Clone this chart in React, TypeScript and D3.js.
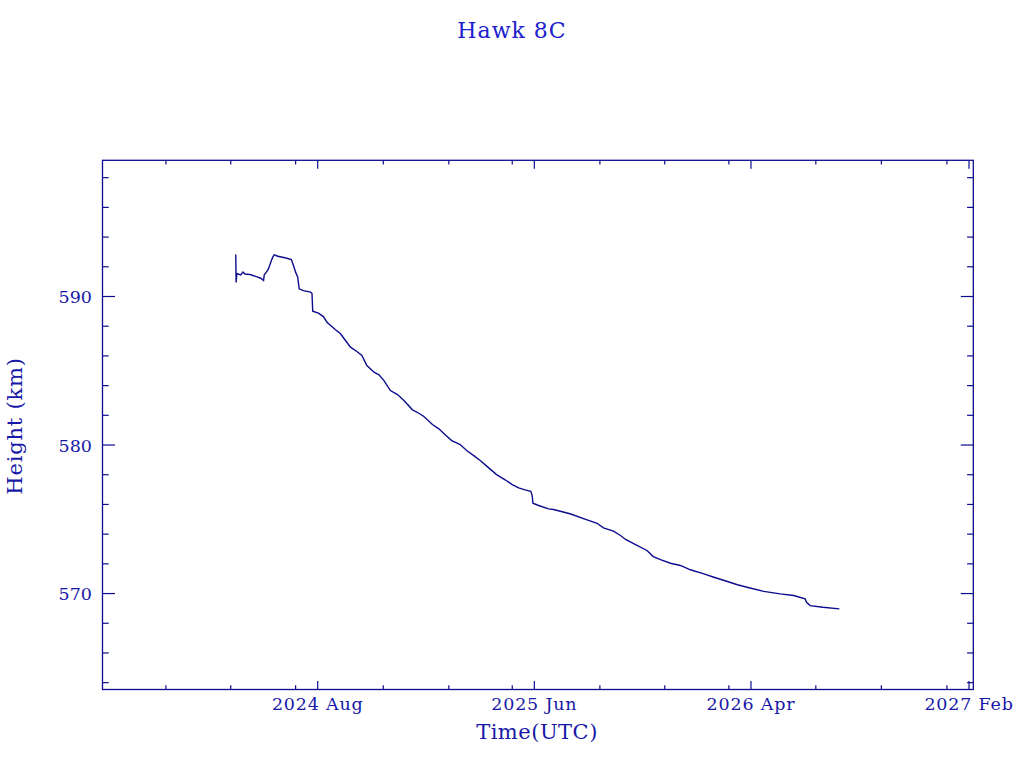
import React from 'react';
import { scaleUtc, scaleLinear, line, utcParse, utcMonth, range } from 'd3';

// orbit height samples (UTC date, km)
const dates = [
  '2024-04-08T00', '2024-04-08T12', '2024-04-09T12', '2024-04-15T00', '2024-04-18T00', '2024-04-21T00',
  '2024-04-28T00', '2024-05-09T00', '2024-05-13T00', '2024-05-17T00', '2024-05-18T00', '2024-05-21T00',
  '2024-05-24T00', '2024-05-28T00', '2024-05-30T00', '2024-06-01T00', '2024-06-06T00', '2024-06-16T00',
  '2024-06-25T00', '2024-06-28T00', '2024-07-01T00', '2024-07-04T00', '2024-07-06T00', '2024-07-12T00',
  '2024-07-22T00', '2024-07-24T00', '2024-07-25T00', '2024-08-02T00', '2024-08-09T00', '2024-08-14T00',
  '2024-08-26T00', '2024-09-02T00', '2024-09-09T00', '2024-09-16T00', '2024-09-25T00', '2024-10-02T00',
  '2024-10-09T00', '2024-10-19T00', '2024-10-26T00', '2024-11-02T00', '2024-11-11T00', '2024-11-21T00',
  '2024-11-30T00', '2024-12-12T00', '2024-12-21T00', '2024-12-28T00', '2025-01-09T00', '2025-01-18T00',
  '2025-01-28T00', '2025-02-05T00', '2025-02-17T00', '2025-02-26T00', '2025-03-08T00', '2025-03-17T00',
  '2025-03-29T00', '2025-04-09T00', '2025-04-21T00', '2025-05-01T00', '2025-05-10T00', '2025-05-19T00',
  '2025-05-27T00', '2025-05-29T00', '2025-05-30T00', '2025-06-07T00', '2025-06-21T00', '2025-06-28T00',
  '2025-07-21T00', '2025-08-14T00', '2025-08-28T00', '2025-09-06T00', '2025-09-20T00', '2025-09-30T00',
  '2025-10-07T00', '2025-10-21T00', '2025-11-06T00', '2025-11-15T00', '2025-11-25T00', '2025-12-09T00',
  '2025-12-23T00', '2026-01-06T00', '2026-01-25T00', '2026-02-08T00', '2026-02-27T00', '2026-03-13T00',
  '2026-04-01T00', '2026-04-19T00', '2026-05-12T00', '2026-05-31T00', '2026-06-16T00', '2026-06-18T00',
  '2026-06-23T00', '2026-07-11T00', '2026-08-03T00',
];

const heights = [
  592.83, 590.94, 591.55, 591.46, 591.64, 591.51,
  591.48, 591.30, 591.23, 591.08, 591.46, 591.64,
  591.87, 592.42, 592.65, 592.81, 592.71, 592.61,
  592.49, 592.09, 591.64, 591.30, 590.52, 590.40,
  590.29, 590.20, 589.01, 588.88, 588.65, 588.27,
  587.76, 587.49, 587.04, 586.59, 586.30, 586.03,
  585.35, 584.90, 584.73, 584.34, 583.67, 583.40,
  583.00, 582.37, 582.14, 581.92, 581.38, 581.09,
  580.64, 580.30, 580.03, 579.63, 579.29, 578.96,
  578.46, 578.01, 577.66, 577.34, 577.12, 576.98,
  576.89, 576.60, 576.08, 575.93, 575.70, 575.66,
  575.37, 574.96, 574.73, 574.42, 574.20, 573.91,
  573.64, 573.30, 572.90, 572.49, 572.29, 572.04,
  571.89, 571.60, 571.33, 571.10, 570.81, 570.59,
  570.36, 570.15, 569.98, 569.87, 569.64, 569.41,
  569.19, 569.08, 568.97,
];

const majorTimes = ['2024-08-01', '2025-06-01', '2026-04-01', '2027-02-01'];
const majorLabels = ['2024 Aug', '2025 Jun', '2026 Apr', '2027 Feb'];
const minorBase = ['2023-10-01', ...majorTimes];
const minorStepMonths = [3, 6, 9];

const yMajor = [570, 580, 590];
const yMinor = range(564, 600, 2);

const W = 1024;
const H = 768;
const box = { left: 102.5, right: 973.3, top: 160.3, bottom: 689.5 };

const AXIS = '#0c0c8e';
const TEXT = '#1818a8';
const TITLE = '#2020cc';
const FONT = '"DejaVu Serif", serif';

const parseHour = utcParse('%Y-%m-%dT%H');
const parseDay = utcParse('%Y-%m-%d');

export default function App() {
  const x = scaleUtc()
    .domain([parseDay('2023-10-04')!, parseDay('2027-02-07')!])
    .range([box.left, box.right]);
  const y = scaleLinear().domain([563.54, 599.17]).range([box.bottom, box.top]);

  const points = dates.map((d, i) => ({ t: parseHour(d)!, h: heights[i] }));
  const path = line<{ t: Date; h: number }>()
    .x(d => x(d.t))
    .y(d => y(d.h))(points) ?? '';

  const majors = majorTimes.map(s => parseDay(s)!);
  const minors = minorBase
    .flatMap(s => minorStepMonths.map(m => utcMonth.offset(parseDay(s)!, m)))
    .filter(d => x(d) > box.left && x(d) < box.right);

  const xMaj = 8.5, xMin = 4.3, yMaj = 12.5, yMin = 6.2;

  return (
    <svg width={W} height={H} style={{ position: 'absolute', left: 0, top: 0, background: '#fff' }}>
      <text x={512} y={38} textAnchor="middle" fill={TITLE} fontFamily={FONT} fontSize={22} letterSpacing={1}>
        Hawk 8C
      </text>

      <rect x={box.left} y={box.top} width={box.right - box.left} height={box.bottom - box.top}
        fill="none" stroke={AXIS} strokeWidth={1.3} />

      <g stroke={AXIS} strokeWidth={1.2}>
        {majors.map((d, i) => (
          <g key={'M' + i}>
            <line x1={x(d)} x2={x(d)} y1={box.bottom} y2={box.bottom - xMaj} />
            <line x1={x(d)} x2={x(d)} y1={box.top} y2={box.top + xMaj} />
          </g>
        ))}
        {minors.map((d, i) => (
          <g key={'m' + i}>
            <line x1={x(d)} x2={x(d)} y1={box.bottom} y2={box.bottom - xMin} />
            <line x1={x(d)} x2={x(d)} y1={box.top} y2={box.top + xMin} />
          </g>
        ))}
        {yMinor.map(v => {
          const len = yMajor.includes(v) ? yMaj : yMin;
          return (
            <g key={'y' + v}>
              <line x1={box.left} x2={box.left + len} y1={y(v)} y2={y(v)} />
              <line x1={box.right} x2={box.right - len} y1={y(v)} y2={y(v)} />
            </g>
          );
        })}
      </g>

      <g fill={TEXT} fontFamily={FONT} fontSize={17.5}>
        {majors.map((d, i) => (
          <text key={i} x={x(d)} y={710} textAnchor="middle" letterSpacing={0.8}>{majorLabels[i]}</text>
        ))}
        {yMajor.map(v => (
          <text key={v} x={92} y={y(v) + 6.5} textAnchor="end">{v}</text>
        ))}
      </g>

      <text x={537} y={739} textAnchor="middle" fill={TEXT} fontFamily={FONT} fontSize={21} letterSpacing={0.5}>
        Time(UTC)
      </text>
      <text transform="translate(22,426) rotate(-90)" textAnchor="middle" fill={TEXT} fontFamily={FONT}
        fontSize={21} letterSpacing={0.8}>
        Height (km)
      </text>

      <path d={path} fill="none" stroke={AXIS} strokeWidth={1.4} strokeLinejoin="miter" />
    </svg>
  );
}
